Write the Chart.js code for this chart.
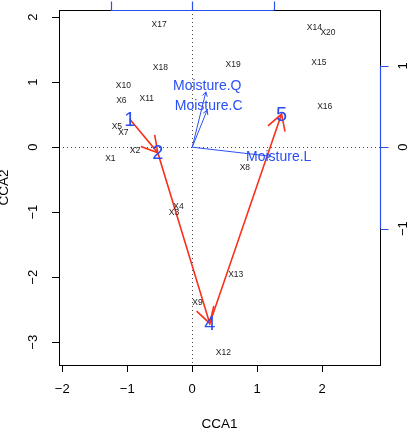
<!DOCTYPE html>
<html lang="en">
<head>
<meta charset="UTF-8">
<title>CCA biplot</title>
<script src="https://cdn.jsdelivr.net/npm/chart.js"></script>
<style>
  html, body { margin: 0; padding: 0; background: #fff; }
</style>
</head>
<body>
<canvas id="cca" width="410" height="433"></canvas>
<script>
// site scores
const siteNames = ['X1', 'X2', 'X3', 'X4', 'X5', 'X6', 'X7', 'X8', 'X9', 'X10',
                   'X11', 'X12', 'X13', 'X14', 'X15', 'X16', 'X17', 'X18', 'X19', 'X20'];
const siteCCA1 = [-1.26, -0.88, -0.28, -0.21, -1.16, -1.09, -1.06, 0.81, 0.08, -1.06,
                  -0.70, 0.48, 0.67, 1.88, 1.95, 2.04, -0.51, -0.49, 0.63, 2.09];
const siteCCA2 = [-0.18, -0.06, -1.00, -0.92, 0.31, 0.71, 0.22, -0.32, -2.39, 0.94,
                  0.74, -3.16, -1.96, 1.84, 1.30, 0.62, 1.89, 1.22, 1.27, 1.76];

// constraint (moisture) arrows, already scaled to the site axes
const envNames = ['Moisture.L', 'Moisture.Q', 'Moisture.C'];
const envCCA1 = [1.21, 0.21, 0.23];
const envCCA2 = [-0.14, 0.85, 0.57];
const envAxisMul = 1.252;   // site units per unit of the biplot axes
const envTicks = [-1, 0, 1];

// moisture class centroids, joined in order
const classNames = ['1', '2', '4', '5'];
const classCCA1 = [-0.96, -0.53, 0.27, 1.375];
const classCCA2 = [0.43, -0.085, -2.71, 0.51];

const xTicks = [-2, -1, 0, 1, 2];
const yTicks = [-3, -2, -1, 0, 1, 2];
const xRange = [-2.05, 2.89];
const yRange = [-3.35, 2.11];

const BLUE = '#2a4ff5';
const RED = '#f8301a';
const FONT = '"Liberation Sans", Arial, sans-serif';

const datasets = [{
  label: 'sites',
  data: siteNames.map((n, i) => ({ x: siteCCA1[i], y: siteCCA2[i] })),
  pointRadius: 0,
  showLine: false
}];
envNames.forEach((n, i) => {
  datasets.push({
    label: n,
    data: [{ x: 0, y: 0 }, { x: envCCA1[i], y: envCCA2[i] }],
    showLine: true,
    borderColor: BLUE,
    borderWidth: 1,
    pointRadius: 0
  });
});
datasets.push({
  label: 'classes',
  data: classNames.map((n, i) => ({ x: classCCA1[i], y: classCCA2[i] })),
  showLine: true,
  borderColor: RED,
  borderWidth: 1.6,
  pointRadius: 0
});

function arrowHead(ctx, x0, y0, x1, y1, len) {
  const a = Math.atan2(y0 - y1, x0 - x1);
  ctx.beginPath();
  ctx.moveTo(x1 + len * Math.cos(a + Math.PI / 6), y1 + len * Math.sin(a + Math.PI / 6));
  ctx.lineTo(x1, y1);
  ctx.lineTo(x1 + len * Math.cos(a - Math.PI / 6), y1 + len * Math.sin(a - Math.PI / 6));
  ctx.stroke();
}

const ordiPlot = {
  id: 'ordiPlot',
  beforeDatasetsDraw(chart) {
    const { ctx, chartArea: a, scales: { x, y } } = chart;
    // dotted lines through the origin
    ctx.save();
    ctx.strokeStyle = '#444';
    ctx.lineWidth = 1;
    ctx.setLineDash([1, 3]);
    ctx.beginPath();
    const x0 = Math.round(x.getPixelForValue(0)) + 0.5;
    const y0 = Math.round(y.getPixelForValue(0)) + 0.5;
    ctx.moveTo(x0, a.top); ctx.lineTo(x0, a.bottom);
    ctx.moveTo(a.left, y0); ctx.lineTo(a.right, y0);
    ctx.stroke();
    ctx.restore();
  },
  afterDatasetsDraw(chart) {
    const { ctx, chartArea: a, scales: { y, x2, y2 } } = chart;
    ctx.save();

    // site labels
    const sites = chart.getDatasetMeta(0).data;
    ctx.font = '8.5px ' + FONT;
    ctx.fillStyle = '#222';
    ctx.textAlign = 'center';
    ctx.textBaseline = 'middle';
    sites.forEach((pt, i) => ctx.fillText(siteNames[i], pt.x, pt.y));

    // moisture arrows: heads and labels
    ctx.strokeStyle = BLUE;
    ctx.fillStyle = BLUE;
    ctx.lineWidth = 1;
    ctx.font = '14px ' + FONT;
    envNames.forEach((n, i) => {
      const pts = chart.getDatasetMeta(1 + i).data;
      arrowHead(ctx, pts[0].x, pts[0].y, pts[1].x, pts[1].y, 5);
      const lx = pts[0].x + (pts[1].x - pts[0].x) * 1.1;
      const ly = pts[0].y + (pts[1].y - pts[0].y) * 1.1;
      ctx.fillText(n, lx, ly);
    });

    // centroid path heads and class labels
    const cls = chart.getDatasetMeta(1 + envNames.length).data;
    ctx.strokeStyle = RED;
    ctx.lineWidth = 1.6;
    for (let i = 1; i < cls.length; i++) {
      arrowHead(ctx, cls[i - 1].x, cls[i - 1].y, cls[i].x, cls[i].y, 18);
    }
    ctx.fillStyle = BLUE;
    ctx.font = '20px ' + FONT;
    cls.forEach((pt, i) => ctx.fillText(classNames[i], pt.x, pt.y + 1));

    // frame
    ctx.strokeStyle = '#000';
    ctx.lineWidth = 1;
    ctx.strokeRect(a.left + 0.5, a.top + 0.5, a.right - a.left, a.bottom - a.top);

    // rotated labels of the left axis
    ctx.fillStyle = '#000';
    ctx.font = '13px ' + FONT;
    yTicks.forEach(v => {
      ctx.save();
      ctx.translate(33, y.getPixelForValue(v));
      ctx.rotate(-Math.PI / 2);
      ctx.fillText(v < 0 ? '\u2212' + Math.abs(v) : String(v), 0, 0);
      ctx.restore();
    });

    // biplot axes (top and right)
    ctx.strokeStyle = BLUE;
    ctx.lineWidth = 1.2;
    const tTop = a.top + 0.5;
    ctx.beginPath();
    ctx.moveTo(x2.getPixelForValue(envTicks[0]), tTop);
    ctx.lineTo(x2.getPixelForValue(envTicks[envTicks.length - 1]), tTop);
    envTicks.forEach(v => {
      const px = Math.round(x2.getPixelForValue(v)) + 0.5;
      ctx.moveTo(px, tTop); ctx.lineTo(px, tTop - 9);
    });
    const tRight = a.right + 0.5;
    ctx.moveTo(tRight, y2.getPixelForValue(envTicks[0]));
    ctx.lineTo(tRight, y2.getPixelForValue(envTicks[envTicks.length - 1]));
    envTicks.forEach(v => {
      const py = Math.round(y2.getPixelForValue(v)) + 0.5;
      ctx.moveTo(tRight, py); ctx.lineTo(tRight + 8, py);
    });
    ctx.stroke();
    ctx.fillStyle = '#000';
    envTicks.forEach(v => {
      ctx.save();
      ctx.translate(a.right + 23, y2.getPixelForValue(v));
      ctx.rotate(-Math.PI / 2);
      ctx.fillText(v < 0 ? '\u2212' + Math.abs(v) : String(v), 0, 0);
      ctx.restore();
    });
    ctx.restore();
  }
};

new Chart(document.getElementById('cca'), {
  type: 'scatter',
  data: { datasets },
  options: {
    responsive: false,
    animation: false,
    devicePixelRatio: 1,
    layout: { padding: { top: 10, right: 30, left: 0, bottom: 0 } },
    plugins: { legend: { display: false }, tooltip: { enabled: false } },
    scales: {
      x: {
        type: 'linear',
        position: 'bottom',
        min: xRange[0],
        max: xRange[1],
        afterBuildTicks: s => { s.ticks = xTicks.map(v => ({ value: v })); },
        afterFit: s => { s.height = 68; },
        ticks: {
          color: '#000',
          font: { family: FONT, size: 13 },
          padding: 10,
          callback: v => v < 0 ? '\u2212' + Math.abs(v) : String(v)
        },
        grid: { drawOnChartArea: false, drawTicks: true, tickLength: 7, color: '#000' },
        border: { display: true, color: '#000' },
        title: {
          display: true,
          text: 'CCA1',
          color: '#000',
          font: { family: FONT, size: 13.5 },
          padding: { top: 0, bottom: 1 }
        }
      },
      y: {
        type: 'linear',
        position: 'left',
        min: yRange[0],
        max: yRange[1],
        afterBuildTicks: s => { s.ticks = yTicks.map(v => ({ value: v })); },
        afterFit: s => { s.width = 59; },
        ticks: { display: false },
        grid: { drawOnChartArea: false, drawTicks: true, tickLength: 7, color: '#000' },
        border: { display: true, color: '#000' },
        title: {
          display: true,
          text: 'CCA2',
          color: '#000',
          font: { family: FONT, size: 13.5 },
          padding: { top: -4, bottom: 0 }
        }
      },
      x2: {
        type: 'linear',
        display: false,
        position: 'top',
        min: xRange[0] / envAxisMul,
        max: xRange[1] / envAxisMul
      },
      y2: {
        type: 'linear',
        display: false,
        position: 'right',
        min: yRange[0] / envAxisMul,
        max: yRange[1] / envAxisMul
      }
    }
  },
  plugins: [ordiPlot]
});
</script>
</body>
</html>
